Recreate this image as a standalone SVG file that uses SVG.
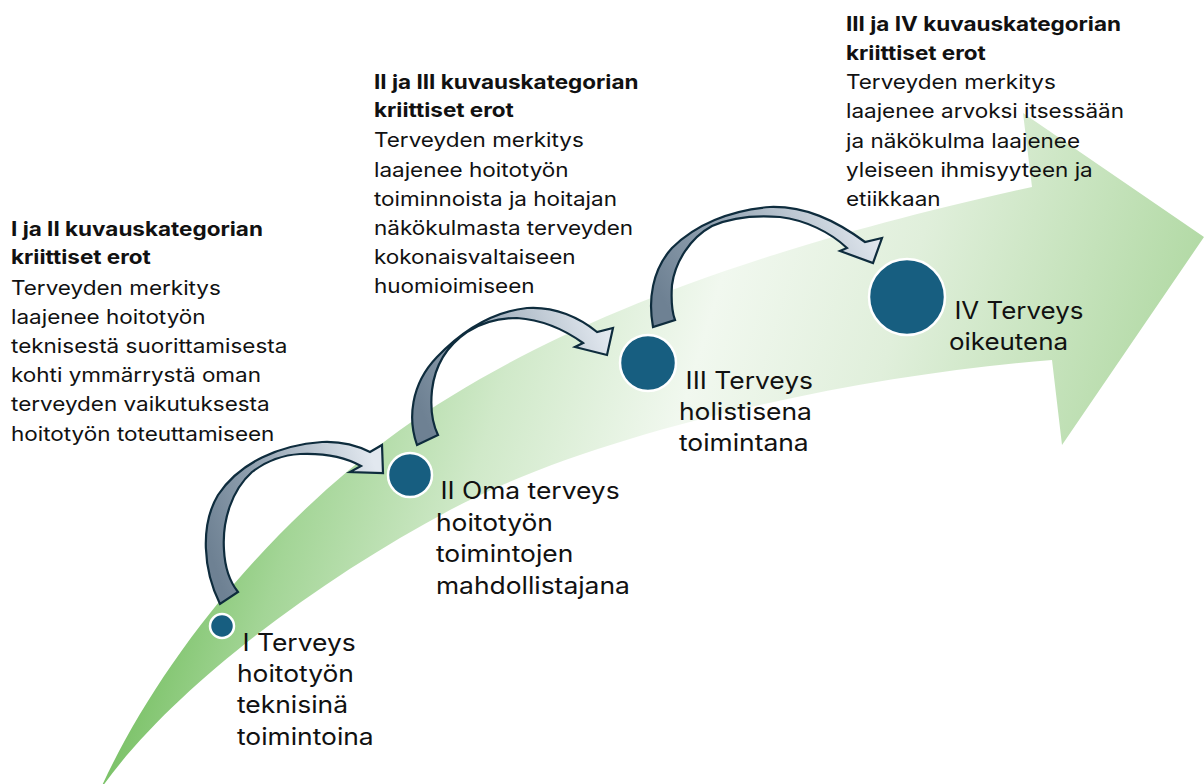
<svg xmlns="http://www.w3.org/2000/svg" width="1204" height="784" viewBox="0 0 1204 784">
<defs>
<linearGradient id="bigG" gradientUnits="userSpaceOnUse" x1="100" y1="784" x2="962" y2="1043">
<stop offset="0" stop-color="#7bc268"/>
<stop offset="0.12" stop-color="#a3d596"/>
<stop offset="0.3" stop-color="#d0e9c9"/>
<stop offset="0.5" stop-color="#f1f8ef"/>
<stop offset="0.7" stop-color="#e0efdb"/>
<stop offset="1" stop-color="#b3daa6"/>
</linearGradient>
<linearGradient id="arrG" x1="0" y1="0.6" x2="1" y2="0.3">
<stop offset="0" stop-color="#6e8193"/>
<stop offset="0.4" stop-color="#94a4b3"/>
<stop offset="1" stop-color="#e2e8ef"/>
</linearGradient>
<style>
.curved{fill:url(#arrG);stroke:#0e2c3d;stroke-width:2.2;stroke-linejoin:miter}
.dot{fill:#175e80;stroke:#ffffff;stroke-width:2.5}
.t{font-family:Inter,"Noto Sans","Liberation Sans",sans-serif;fill:#111111}
.p{font-size:20px}
.b{font-size:20px;font-weight:bold}
.n{font-size:24px}
</style>
</defs>
<rect width="1204" height="784" fill="#ffffff"/>
<g id="main-arrow">
<path d="M100,790 C150,680 250,540 400,430 C520,345 700,260 1032,187 L1023,113 L1204,237 L1062,445 L1052,360 C860,375 600,430 450,510 C315,582 170,690 100,790 Z" fill="url(#bigG)"/>
</g>
<g id="connectors">
<path class="curved" d="M220,604 C203,570 200,525 218,495 C240,462 280,445 322,442 C342,441 358,446 370,452 L382,445 L383,473 L350,472 L361,466 C345,457 325,453 300,454 C282,455 265,462 252,472 C232,490 222,520 224,550 C225,570 230,582 238,592 Z"/>
<path class="curved" d="M417,445 C408,420 410,385 437,357 C460,333 490,312 527,308 C555,306 580,318 597,332 L613,328 L607,355 L575,347 L583,343 C565,330 545,320 517,318 C495,318 478,325 467,332 C448,345 435,365 432,390 C430,410 433,425 438,435 Z"/>
<path class="curved" d="M653,327 C648,300 652,270 672,248 C695,225 730,210 770,207 C805,206 835,220 865,242 L882,238 L873,263 L840,251 L847,248 C830,232 805,220 780,217 C755,215 730,218 712,226 C690,238 675,262 672,285 C671,300 672,312 675,320 Z"/>
</g>
<g id="node1">
<circle class="dot" cx="222" cy="626" r="12"/>
<g transform="translate(237,0) scale(1.1,1) translate(-237,0)">
<text class="t n" x="242" y="651">I Terveys</text>
<text class="t n" x="237" y="682">hoitotyön</text>
<text class="t n" x="237" y="713">teknisinä</text>
<text class="t n" x="237" y="745">toimintoina</text>
</g>
</g>
<g id="node2">
<circle class="dot" cx="410" cy="475" r="22"/>
<g transform="translate(436,0) scale(1.1,1) translate(-436,0)">
<text class="t n" x="440" y="499">II Oma terveys</text>
<text class="t n" x="436" y="531">hoitotyön</text>
<text class="t n" x="436" y="562">toimintojen</text>
<text class="t n" x="436" y="594">mahdollistajana</text>
</g>
</g>
<g id="node3">
<circle class="dot" cx="648" cy="363" r="28"/>
<g transform="translate(679,0) scale(1.1,1) translate(-679,0)">
<text class="t n" x="685" y="389">III Terveys</text>
<text class="t n" x="679" y="420">holistisena</text>
<text class="t n" x="679" y="451">toimintana</text>
</g>
</g>
<g id="node4">
<circle class="dot" cx="907" cy="297" r="38"/>
<g transform="translate(949,0) scale(1.08,1) translate(-949,0)">
<text class="t n" x="954" y="319">IV Terveys</text>
<text class="t n" x="949" y="350">oikeutena</text>
</g>
</g>
<g id="desc1" transform="translate(11,0) scale(1.125,1) translate(-11,0)">
<text class="t b" x="11" y="236">I ja II kuvauskategorian</text>
<text class="t b" x="11" y="264">kriittiset erot</text>
<text class="t p" x="11" y="295">Terveyden merkitys</text>
<text class="t p" x="11" y="324">laajenee hoitotyön</text>
<text class="t p" x="11" y="353">teknisestä suorittamisesta</text>
<text class="t p" x="11" y="382">kohti ymmärrystä oman</text>
<text class="t p" x="11" y="411">terveyden vaikutuksesta</text>
<text class="t p" x="11" y="441">hoitotyön toteuttamiseen</text>
</g>
<g id="desc2" transform="translate(374,0) scale(1.125,1) translate(-374,0)">
<text class="t b" x="374" y="89">II ja III kuvauskategorian</text>
<text class="t b" x="374" y="117">kriittiset erot</text>
<text class="t p" x="374" y="147">Terveyden merkitys</text>
<text class="t p" x="374" y="177">laajenee hoitotyön</text>
<text class="t p" x="374" y="206">toiminnoista ja hoitajan</text>
<text class="t p" x="374" y="235">näkökulmasta terveyden</text>
<text class="t p" x="374" y="264">kokonaisvaltaiseen</text>
<text class="t p" x="374" y="293">huomioimiseen</text>
</g>
<g id="desc3" transform="translate(846,0) scale(1.125,1) translate(-846,0)">
<text class="t b" x="846" y="31">III ja IV kuvauskategorian</text>
<text class="t b" x="846" y="60">kriittiset erot</text>
<text class="t p" x="846" y="89">Terveyden merkitys</text>
<text class="t p" x="846" y="118">laajenee arvoksi itsessään</text>
<text class="t p" x="846" y="148">ja näkökulma laajenee</text>
<text class="t p" x="846" y="177">yleiseen ihmisyyteen ja</text>
<text class="t p" x="846" y="206">etiikkaan</text>
</g>
</svg>
